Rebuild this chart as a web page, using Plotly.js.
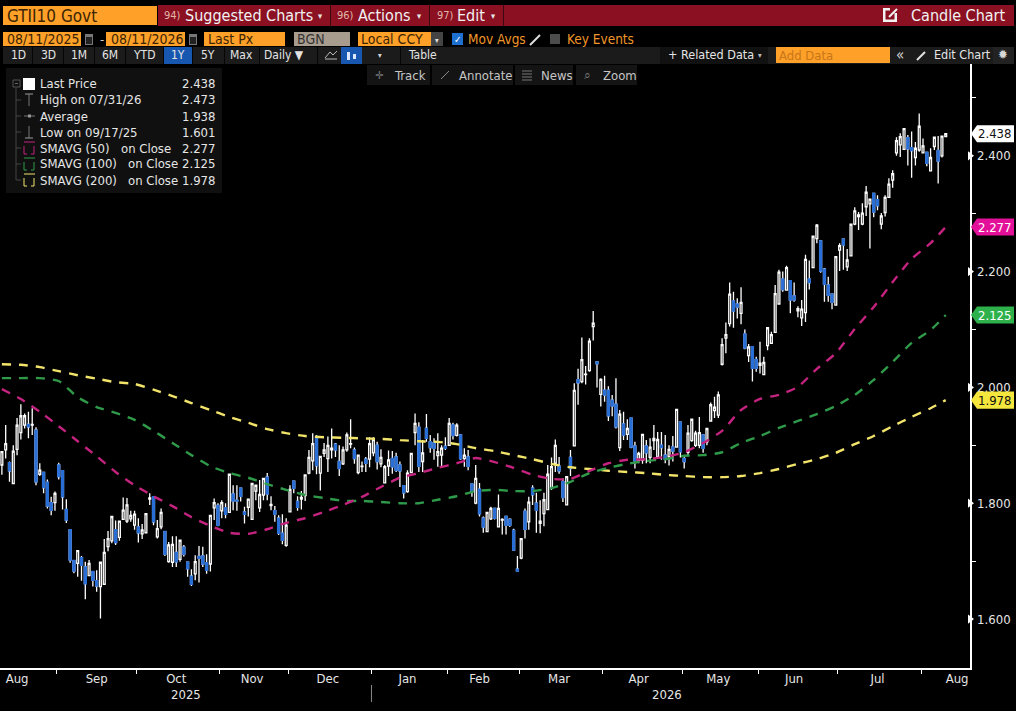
<!DOCTYPE html>
<html>
<head>
<meta charset="utf-8">
<script src="https://cdn.plot.ly/plotly-3.0.1.min.js"></script>
<style>html,body{margin:0;padding:0;background:#000;overflow:hidden}#chart{width:1016px;height:711px}</style>
</head>
<body>
<div id="chart"></div>
<script>
const dates = [
"2025-08-11","2025-08-12","2025-08-13","2025-08-14","2025-08-15","2025-08-18","2025-08-19","2025-08-20","2025-08-21","2025-08-22","2025-08-25","2025-08-26","2025-08-27","2025-08-28","2025-08-29",
"2025-09-02","2025-09-03","2025-09-04","2025-09-05","2025-09-08","2025-09-09","2025-09-10","2025-09-11","2025-09-12","2025-09-15","2025-09-16","2025-09-17","2025-09-18","2025-09-19","2025-09-22","2025-09-23","2025-09-24","2025-09-25","2025-09-26","2025-09-29","2025-09-30",
"2025-10-01","2025-10-02","2025-10-03","2025-10-06","2025-10-07","2025-10-08","2025-10-09","2025-10-10","2025-10-14","2025-10-15","2025-10-16","2025-10-17","2025-10-20","2025-10-21","2025-10-22","2025-10-23","2025-10-24","2025-10-27","2025-10-28","2025-10-29","2025-10-30","2025-10-31",
"2025-11-03","2025-11-04","2025-11-05","2025-11-06","2025-11-07","2025-11-10","2025-11-12","2025-11-13","2025-11-14","2025-11-17","2025-11-18","2025-11-19","2025-11-20","2025-11-21","2025-11-24","2025-11-25","2025-11-26","2025-11-28",
"2025-12-01","2025-12-02","2025-12-03","2025-12-04","2025-12-05","2025-12-08","2025-12-09","2025-12-10","2025-12-11","2025-12-12","2025-12-15","2025-12-16","2025-12-17","2025-12-18","2025-12-19","2025-12-22","2025-12-23","2025-12-24","2025-12-26","2025-12-29","2025-12-30","2025-12-31",
"2026-01-02","2026-01-05","2026-01-06","2026-01-07","2026-01-08","2026-01-09","2026-01-12","2026-01-13","2026-01-14","2026-01-15","2026-01-16","2026-01-20","2026-01-21","2026-01-22","2026-01-23","2026-01-26","2026-01-27","2026-01-28","2026-01-29","2026-01-30",
"2026-02-02","2026-02-03","2026-02-04","2026-02-05","2026-02-06","2026-02-09","2026-02-10","2026-02-11","2026-02-12","2026-02-13","2026-02-17","2026-02-18","2026-02-19","2026-02-20","2026-02-23","2026-02-24","2026-02-25","2026-02-26","2026-02-27",
"2026-03-02","2026-03-03","2026-03-04","2026-03-05","2026-03-06","2026-03-09","2026-03-10","2026-03-11","2026-03-12","2026-03-13","2026-03-16","2026-03-17","2026-03-18","2026-03-19","2026-03-20","2026-03-23","2026-03-24","2026-03-25","2026-03-26","2026-03-27","2026-03-30","2026-03-31",
"2026-04-01","2026-04-02","2026-04-06","2026-04-07","2026-04-08","2026-04-09","2026-04-10","2026-04-13","2026-04-14","2026-04-15","2026-04-16","2026-04-17","2026-04-20","2026-04-21","2026-04-22","2026-04-23","2026-04-24","2026-04-27","2026-04-28","2026-04-29","2026-04-30",
"2026-05-01","2026-05-04","2026-05-05","2026-05-06","2026-05-07","2026-05-08","2026-05-11","2026-05-12","2026-05-13","2026-05-14","2026-05-15","2026-05-18","2026-05-19","2026-05-20","2026-05-21","2026-05-22","2026-05-26","2026-05-27","2026-05-28","2026-05-29",
"2026-06-01","2026-06-02","2026-06-03","2026-06-04","2026-06-05","2026-06-08","2026-06-09","2026-06-10","2026-06-11","2026-06-12","2026-06-15","2026-06-16","2026-06-17","2026-06-18","2026-06-22","2026-06-23","2026-06-24","2026-06-25","2026-06-26","2026-06-29","2026-06-30",
"2026-07-01","2026-07-02","2026-07-06","2026-07-07","2026-07-08","2026-07-09","2026-07-10","2026-07-13","2026-07-14","2026-07-15","2026-07-16","2026-07-17","2026-07-20","2026-07-21","2026-07-22","2026-07-23","2026-07-24","2026-07-27","2026-07-28","2026-07-29","2026-07-30","2026-07-31",
"2026-08-03","2026-08-04","2026-08-05","2026-08-06","2026-08-07","2026-08-10","2026-08-11"];

const opens = [
1.866,1.892,1.870,1.834,1.893,1.922,1.935,1.936,1.935,1.926,
1.850,1.853,1.836,1.801,1.801,1.866,1.856,1.789,1.754,1.701,
1.696,1.706,1.690,1.675,1.682,1.666,1.656,1.660,1.725,1.735,
1.754,1.741,1.772,1.769,1.773,1.762,1.759,1.747,1.749,1.807,
1.811,1.742,1.759,1.751,1.699,1.698,1.715,1.703,1.724,1.698,
1.674,1.678,1.708,1.709,1.697,1.695,1.792,1.796,1.787,1.792,
1.784,1.816,1.805,1.826,1.785,1.793,1.772,1.821,1.792,1.814,
1.845,1.796,1.787,1.774,1.748,1.727,1.785,1.838,1.803,1.807,
1.813,1.852,1.873,1.915,1.852,1.886,1.877,1.892,1.902,1.872,
1.868,1.892,1.902,1.892,1.853,1.863,1.876,1.876,1.887,1.900,
1.868,1.835,1.864,1.877,1.880,1.866,1.830,1.820,1.853,1.922,
1.931,1.872,1.929,1.906,1.904,1.882,1.883,1.898,1.900,1.935,
1.917,1.918,1.877,1.880,1.833,1.800,1.824,1.774,1.751,1.773,
1.791,1.759,1.771,1.777,1.772,1.753,1.686,1.705,1.786,1.768,
1.826,1.800,1.765,1.782,1.789,1.827,1.869,1.864,1.837,1.797,
1.879,1.899,2.013,2.010,2.022,2.029,2.105,2.044,1.988,1.995,
1.995,1.978,1.971,1.896,1.937,1.919,1.947,1.899,1.874,1.874,
1.899,1.879,1.908,1.880,1.900,1.883,1.880,1.897,1.897,1.940,
1.877,1.888,1.908,1.900,1.900,1.918,1.906,1.942,1.960,1.952,
2.040,2.085,2.110,2.149,2.144,2.128,2.092,2.055,2.070,2.048,
2.038,2.022,2.072,2.076,2.095,2.144,2.187,2.168,2.184,2.158,
2.132,2.120,2.129,2.187,2.207,2.257,2.253,2.204,2.177,2.161,
2.142,2.237,2.256,2.208,2.227,2.282,2.295,2.282,2.312,2.317,
2.335,2.324,2.282,2.302,2.328,2.358,2.405,2.419,2.411,2.431,
2.414,2.397,2.410,2.405,2.406,2.374,2.416,2.409,2.400,2.433];

const highs = [
1.889,1.935,1.872,1.900,1.947,1.971,1.955,1.958,1.964,1.931,
1.869,1.854,1.841,1.811,1.820,1.870,1.857,1.807,1.754,1.702,
1.718,1.709,1.699,1.702,1.682,1.684,1.698,1.738,1.752,1.777,
1.770,1.770,1.810,1.809,1.787,1.787,1.774,1.764,1.782,1.817,
1.812,1.771,1.791,1.752,1.733,1.743,1.743,1.736,1.728,1.698,
1.686,1.710,1.726,1.725,1.712,1.779,1.808,1.800,1.805,1.800,
1.850,1.831,1.831,1.826,1.794,1.807,1.835,1.831,1.840,1.843,
1.852,1.812,1.795,1.779,1.781,1.774,1.831,1.839,1.812,1.821,
1.849,1.892,1.921,1.918,1.881,1.904,1.915,1.929,1.904,1.900,
1.898,1.922,1.945,1.896,1.883,1.872,1.880,1.914,1.914,1.906,
1.893,1.866,1.891,1.890,1.887,1.872,1.831,1.857,1.886,1.955,
1.940,1.909,1.954,1.918,1.912,1.921,1.900,1.914,1.947,1.939,
1.938,1.918,1.895,1.892,1.833,1.866,1.835,1.777,1.784,1.794,
1.791,1.815,1.774,1.778,1.774,1.756,1.709,1.739,1.791,1.811,
1.831,1.818,1.805,1.818,1.866,1.879,1.910,1.880,1.843,1.846,
1.892,2.007,2.032,2.086,2.037,2.085,2.132,2.044,2.016,2.020,
2.002,1.987,2.016,1.961,1.958,1.945,1.947,1.906,1.889,1.919,
1.909,1.912,1.935,1.923,1.923,1.918,1.900,1.916,1.962,1.941,
1.882,1.935,1.945,1.925,1.949,1.918,1.929,1.974,1.984,1.993,
2.085,2.112,2.181,2.165,2.154,2.173,2.100,2.075,2.070,2.053,
2.079,2.053,2.104,2.096,2.177,2.203,2.200,2.210,2.185,2.181,
2.140,2.151,2.229,2.219,2.261,2.282,2.253,2.206,2.191,2.162,
2.226,2.249,2.256,2.239,2.282,2.311,2.303,2.318,2.348,2.326,
2.335,2.332,2.301,2.332,2.361,2.375,2.432,2.439,2.447,2.436,
2.442,2.424,2.473,2.430,2.407,2.413,2.432,2.434,2.434,2.439];

const lows = [
1.849,1.877,1.837,1.834,1.883,1.910,1.929,1.912,1.918,1.831,
1.847,1.817,1.791,1.779,1.787,1.841,1.789,1.766,1.697,1.679,
1.673,1.666,1.634,1.674,1.656,1.647,1.601,1.659,1.717,1.731,
1.728,1.735,1.771,1.766,1.768,1.754,1.732,1.738,1.749,1.797,
1.762,1.739,1.755,1.709,1.697,1.690,1.690,1.699,1.708,1.673,
1.657,1.667,1.663,1.690,1.678,1.682,1.771,1.760,1.774,1.774,
1.784,1.788,1.787,1.803,1.765,1.777,1.772,1.805,1.785,1.805,
1.805,1.788,1.768,1.745,1.729,1.725,1.785,1.817,1.787,1.789,
1.804,1.850,1.857,1.850,1.822,1.880,1.854,1.877,1.880,1.847,
1.866,1.889,1.895,1.868,1.850,1.854,1.854,1.862,1.881,1.858,
1.862,1.834,1.847,1.851,1.854,1.828,1.808,1.818,1.852,1.900,
1.854,1.854,1.906,1.887,1.875,1.863,1.862,1.892,1.900,1.910,
1.915,1.875,1.863,1.857,1.811,1.798,1.777,1.749,1.750,1.771,
1.772,1.758,1.746,1.746,1.759,1.718,1.683,1.703,1.739,1.754,
1.797,1.749,1.748,1.760,1.788,1.823,1.854,1.851,1.802,1.796,
1.847,1.899,1.970,2.007,2.005,2.027,2.081,2.000,1.967,1.975,
1.942,1.950,1.929,1.890,1.909,1.909,1.895,1.860,1.869,1.868,
1.869,1.869,1.892,1.877,1.875,1.869,1.865,1.872,1.897,1.879,
1.860,1.883,1.906,1.897,1.895,1.887,1.900,1.941,1.947,1.947,
2.038,2.059,2.105,2.103,2.119,2.109,2.066,2.044,2.010,2.027,
2.024,2.021,2.064,2.075,2.094,2.144,2.165,2.168,2.128,2.148,
2.121,2.106,2.113,2.169,2.206,2.249,2.198,2.148,2.148,2.135,
2.141,2.201,2.203,2.201,2.226,2.280,2.272,2.280,2.296,2.240,
2.294,2.306,2.273,2.295,2.327,2.345,2.400,2.398,2.410,2.383,
2.362,2.383,2.407,2.404,2.382,2.373,2.410,2.352,2.397,2.433];

const closes = [
1.889,1.903,1.856,1.890,1.935,1.951,1.951,1.932,1.936,1.837,
1.857,1.827,1.795,1.788,1.817,1.846,1.811,1.771,1.702,1.683,
1.718,1.693,1.661,1.696,1.667,1.657,1.698,1.715,1.739,1.777,
1.732,1.769,1.788,1.797,1.779,1.781,1.749,1.754,1.782,1.809,
1.768,1.756,1.784,1.712,1.728,1.729,1.699,1.736,1.712,1.687,
1.660,1.699,1.705,1.695,1.684,1.779,1.801,1.762,1.801,1.781,
1.850,1.804,1.804,1.812,1.781,1.807,1.834,1.831,1.815,1.843,
1.816,1.798,1.781,1.748,1.736,1.762,1.824,1.826,1.793,1.810,
1.849,1.879,1.903,1.865,1.881,1.892,1.900,1.895,1.892,1.860,
1.892,1.918,1.903,1.877,1.883,1.864,1.869,1.903,1.910,1.872,
1.879,1.863,1.875,1.863,1.857,1.856,1.818,1.852,1.886,1.938,
1.864,1.887,1.912,1.896,1.895,1.889,1.895,1.895,1.938,1.917,
1.935,1.877,1.883,1.864,1.820,1.843,1.782,1.759,1.784,1.791,
1.774,1.791,1.772,1.762,1.762,1.719,1.683,1.739,1.755,1.802,
1.815,1.788,1.769,1.806,1.850,1.863,1.900,1.856,1.810,1.846,
1.860,1.995,2.008,2.048,2.023,2.080,2.111,2.041,2.014,1.987,
1.951,1.968,1.932,1.954,1.918,1.929,1.897,1.873,1.886,1.919,
1.887,1.897,1.912,1.910,1.896,1.876,1.893,1.890,1.962,1.889,
1.872,1.921,1.945,1.921,1.922,1.895,1.929,1.970,1.966,1.987,
2.074,2.091,2.161,2.132,2.139,2.147,2.068,2.070,2.033,2.033,
2.042,2.043,2.103,2.091,2.162,2.199,2.169,2.207,2.151,2.151,
2.136,2.135,2.221,2.181,2.261,2.280,2.201,2.178,2.159,2.147,
2.226,2.245,2.246,2.220,2.282,2.305,2.298,2.301,2.337,2.325,
2.303,2.314,2.296,2.328,2.351,2.369,2.426,2.433,2.447,2.412,
2.409,2.413,2.451,2.417,2.387,2.397,2.432,2.391,2.434,2.438];

// moving averages, read every fifth session (last one is the final session)
const maSessions = [0,5,10,15,20,25,30,35,40,45,50,55,60,65,70,75,80,85,90,95,100,105,110,115,120,125,130,135,140,145,150,155,160,165,170,175,180,185,190,195,200,205,210,215,220,225,230,235,240,245,249];
const sma50 = [1.997,1.980,1.958,1.933,1.907,1.881,1.854,1.831,1.812,1.795,1.776,1.761,1.749,1.747,1.755,1.766,1.774,1.785,1.797,1.811,1.828,1.844,1.852,1.861,1.869,1.878,1.871,1.861,1.849,1.842,1.842,1.856,1.869,1.875,1.876,1.880,1.888,1.904,1.925,1.961,1.980,1.987,2.001,2.032,2.059,2.101,2.139,2.182,2.222,2.249,2.277];
const sma100 = [2.016,2.016,2.016,2.011,1.983,1.966,1.956,1.944,1.925,1.904,1.883,1.864,1.852,1.844,1.833,1.823,1.814,1.809,1.804,1.804,1.802,1.800,1.800,1.806,1.812,1.821,1.823,1.821,1.821,1.826,1.837,1.852,1.861,1.868,1.873,1.876,1.882,1.883,1.888,1.904,1.916,1.930,1.942,1.954,1.968,1.987,2.013,2.044,2.077,2.099,2.125];
const sma200 = [2.040,2.039,2.035,2.028,2.021,2.015,2.009,2.006,1.996,1.985,1.973,1.961,1.949,1.939,1.928,1.921,1.916,1.914,1.913,1.912,1.911,1.909,1.907,1.906,1.902,1.895,1.890,1.883,1.876,1.868,1.862,1.859,1.856,1.854,1.852,1.849,1.847,1.845,1.845,1.847,1.852,1.859,1.868,1.876,1.887,1.902,1.916,1.933,1.949,1.964,1.978];

const holidays = ["2025-09-01","2025-10-13","2025-11-11","2025-11-27","2025-12-25","2026-01-01","2026-01-19","2026-02-16","2026-04-03","2026-05-25","2026-06-19","2026-07-03"];
const monthStarts = ["2025-09-02","2025-10-01","2025-11-03","2025-12-01","2026-01-02","2026-02-02","2026-03-02","2026-04-01","2026-05-01","2026-06-01","2026-07-01","2026-08-03"];
const monthLabelDates = ["2025-08-15","2025-09-16","2025-10-16","2025-11-14","2025-12-15","2026-01-15","2026-02-12","2026-03-16","2026-04-15","2026-05-14","2026-06-12","2026-07-16","2026-08-14"];
const monthLabels = ["Aug","Sep","Oct","Nov","Dec","Jan","Feb","Mar","Apr","May","Jun","Jul","Aug"];
const yMajor = [1.6,1.8,2.0,2.2,2.4];
const yMajorText = ["1.600","1.800","2.000","2.200","2.400"];
const yMinor = [1.7,1.9,2.1,2.3,2.5];
const tagValues = [2.438,2.277,2.125,1.978];
const tagText = ["2.438","2.277","2.125","1.978"];
const tagFill = ["#ffffff","#e3109a","#2eb14b","#f4e63c"];
const tagInk = ["#111111","#ffffff","#ffffff","#111111"];

const xRange = ["2025-08-11 00:00","2026-08-19 21:36"];
const UI = '"DejaVu Sans Condensed","DejaVu Sans",sans-serif';
const W = 970, TOP = 64, BOT = 668, PH = BOT - TOP;
const X = p => p / W, Y = p => (BOT - p) / PH;
const shapes = [], annotations = [];
function rect(x0,y0,x1,y1,fill){shapes.push({type:'rect',xref:'paper',yref:'paper',x0:X(x0),x1:X(x1),y0:Y(y0),y1:Y(y1),fillcolor:fill,line:{width:0},layer:'above'});}
function seg(x0,y0,x1,y1,c,w){shapes.push({type:'line',xref:'paper',yref:'paper',x0:X(x0),x1:X(x1),y0:Y(y0),y1:Y(y1),line:{color:c,width:w||1},layer:'above'});}
function label(x,y,text,color,size,anchor){annotations.push({xref:'paper',yref:'paper',x:X(x),y:Y(y),text:text,showarrow:false,xanchor:anchor||'left',yanchor:'middle',font:{family:UI,size:size||13,color:color||'#e8e8e8'},borderpad:0});}

// --- top red bar
const ORANGE='#ffa028', RED='#8a1022', INK='#3b2404';
rect(158,5,1014,26,RED);
rect(3,6,157,25,ORANGE);
[330,429,503].forEach(x=>rect(x,5,x+1,26,'#3a0810'));
label(6,16,'GTII10 Govt',INK,17);
label(163,15,'94)','#e2b7a6',11); label(184,15,'Suggested Charts','#f2f2f2',16); label(320,16,'▾','#e8e8e8',9,'center');
label(336,15,'96)','#e2b7a6',11); label(357,15,'Actions','#f2f2f2',16); label(419,16,'▾','#e8e8e8',9,'center');
label(436,15,'97)','#e2b7a6',11); label(456,15,'Edit','#f2f2f2',16); label(493,16,'▾','#e8e8e8',9,'center');
label(910,15,'Candle Chart','#f2f2f2',16);
rect(883,8,897,22,'#f2f2f2'); rect(885.5,10.5,894.5,19.5,RED); rect(890,7,899,13,RED); seg(889,17,897,9,'#f2f2f2',2);
// --- second row
rect(3,32,81,46,ORANGE); rect(106,32,185,46,ORANGE); rect(204,32,285,46,ORANGE); rect(294,32,350,46,'#a89c8e'); rect(358,32,431,46,ORANGE); rect(431,32,443,46,'#444444');
rect(85,34,93,45,'#777777'); rect(189,34,197,45,'#777777'); rect(86,37,92,44,'#222222'); rect(190,37,196,44,'#222222');
label(6,39,'08/11/2025',INK,14); label(99,39,'-','#cccccc',13); label(110,39,'08/11/2026',INK,14);
label(207,39,'Last Px',INK,14); label(296,39,'BGN','#333333',14); label(360,39,'Local CCY',INK,14); label(437,40,'▾','#e0e0e0',8,'center');
rect(452,33,463,45,'#1e70d0'); label(457.5,39,'✓','#ffffff',10,'center');
label(467,39,'Mov Avgs','#f0962a',13.5);
seg(530,45,540,35,'#dddddd',2);
rect(550,34,560,44,'#4c4c4c'); label(566,39,'Key Events','#f0962a',13.5);
// --- third row
rect(3,47,1014,64,'#1b1b1b');
[32,63,94,125,163,192,224,259,317,341,400].forEach(x=>rect(x,47,x+1,64,'#060606'));
rect(164,47,192,64,'#1857b0'); rect(341,47,362,64,'#1857b0');
[['1D',18],['3D',48],['1M',79],['6M',110],['YTD',144],['1Y',178],['5Y',208],['Max',241],['Table',422]].forEach(r=>label(r[1],55,r[0],'#e4e4e4',12,'center'));
label(284,55,'Daily ▼','#e4e4e4',12,'center');
seg(325,59,337,59,'#bbbbbb',1); seg(325,58,330,52,'#bbbbbb',1); seg(330,52,333,55,'#bbbbbb',1); seg(333,55,337,51,'#bbbbbb',1);
rect(347,52,350,60,'#dbe8ff'); rect(353,54,356,59,'#dbe8ff');
label(380,56,'▾','#d8d8d8',8,'center');
rect(660,47,768,64,'#111111');
label(667,55,'+ Related Data','#e4e4e4',12.5); label(760,56,'▾','#bbbbbb',8,'center');
rect(776,47,890,63,ORANGE); label(778,56,'Add Data','#c8761a',13);
label(900,55,'«','#d8d8d8',15,'center');
seg(917,60,925,52,'#e4e4e4',2); label(933,55,'Edit Chart','#e4e4e4',12.5);
rect(993,47,1014,64,'#222222'); label(1003,55,'✹','#d8d8d8',13,'center');
// --- fourth row
rect(367,65,430,85,'#141414'); rect(432,65,513,85,'#141414'); rect(515,65,573,85,'#141414'); rect(576,65,637,85,'#141414');
label(379,75,'✛','#777777',11,'center'); label(393,75,'Track','#c6c6c6',13);
seg(441,79,449,71,'#888888',1); label(458,75,'Annotate','#c6c6c6',13);
[71,74,77,80].forEach(y=>seg(522,y,532,y,'#777777',1)); label(540,75,'News','#c6c6c6',13);
label(587,75,'⌕','#777777',12,'center'); label(602,75,'Zoom','#c6c6c6',13);
// --- legend panel
rect(6,68,222,193,'#101010');
const rows = [84,100,116,132,148,164,180];
const legendNames = ['Last Price','High on 07/31/26','Average','Low on 09/17/25','SMAVG (50)','SMAVG (100)','SMAVG (200)'];
const legendValues = ['2.438','2.473','1.938','1.601','2.277','2.125','1.978'];
rows.forEach((y,i)=>{label(39,y,legendNames[i],'#e6e6e6',13); label(216,y,legendValues[i],'#e6e6e6',13,'right');});
label(120,148,'on Close','#e6e6e6',13); label(127,164,'on Close','#e6e6e6',13); label(127,180,'on Close','#e6e6e6',13);
seg(16,88,16,180,'#444444',1);
rows.slice(1).forEach(y=>seg(16,y,21,y,'#444444',1));
rect(13,80,20,87,'#101010'); seg(13,80,20,80,'#555555'); seg(13,87,20,87,'#555555'); seg(13,80,13,87,'#555555'); seg(20,80,20,87,'#555555'); seg(15,83.5,18,83.5,'#666666');
rect(23,78,35,90,'#ffffff');
seg(29,94,29,106,'#777777'); seg(25,94,33,94,'#999999');
seg(24,116,35,116,'#777777'); rect(28,114.5,31,117.5,'#999999');
seg(29,126,29,138,'#777777'); seg(25,138,33,138,'#999999');
[[148,'#c4237f'],[164,'#2f9b4a'],[180,'#f2e46a']].forEach(r=>{const y=r[0],c=r[1];seg(24,y-6,35,y-6,c);seg(24,y-2,24,y+6,c);seg(24,y+6,27,y+6,c);seg(34,y-2,34,y+6,c);seg(31,y+6,34,y+6,c);});
// --- value tags on the right axis
tagValues.forEach((v,i)=>{
  const h=0.0147, a=X(971), b=X(977), c=X(1014);
  shapes.push({type:'path',xref:'paper',yref:'y',path:`M ${a},${v} L ${b},${v+h} L ${c},${v+h} L ${c},${v-h} L ${b},${v-h} Z`,fillcolor:tagFill[i],line:{width:0},layer:'above'});
  annotations.push({xref:'paper',yref:'y',x:X(995),y:v,text:tagText[i],showarrow:false,xanchor:'center',yanchor:'middle',font:{family:UI,size:13,color:tagInk[i]},borderpad:0});
});
// --- year band under the month labels
shapes.push({type:'line',xref:'x',yref:'paper',x0:"2026-01-02",x1:"2026-01-02",y0:Y(685),y1:Y(702),line:{color:'#888888',width:1},layer:'above'});
annotations.push({xref:'x',yref:'paper',x:"2025-10-21",y:Y(694),text:'2025',showarrow:false,xanchor:'center',yanchor:'middle',font:{family:UI,size:13,color:'#e6e6e6'}});
annotations.push({xref:'x',yref:'paper',x:"2026-04-27",y:Y(694),text:'2026',showarrow:false,xanchor:'center',yanchor:'middle',font:{family:UI,size:13,color:'#e6e6e6'}});

const noon = d => d + ' 12:00';
const downIdx = closes.map((c,i)=>c<opens[i]?i:-1).filter(i=>i>=0);
const BLUE = '#2a6fd6';
const STROKE = 1.3;
const traces = [
  {type:'candlestick',x:dates.map(noon),open:opens,high:highs,low:lows,close:closes,whiskerwidth:0,
   increasing:{line:{color:'#ffffff',width:STROKE},fillcolor:'#000000'},
   decreasing:{line:{color:'#ffffff',width:STROKE},fillcolor:BLUE},hoverinfo:'skip',showlegend:false},
  {type:'candlestick',x:downIdx.map(i=>noon(dates[i])),open:downIdx.map(i=>opens[i]),close:downIdx.map(i=>closes[i]),
   high:downIdx.map(i=>opens[i]),low:downIdx.map(i=>closes[i]),whiskerwidth:0,
   increasing:{line:{color:BLUE,width:STROKE+0.2},fillcolor:BLUE},
   decreasing:{line:{color:BLUE,width:STROKE+0.2},fillcolor:BLUE},hoverinfo:'skip',showlegend:false},
  {type:'scatter',mode:'lines',x:maSessions.map(i=>noon(dates[i])),y:sma200,line:{color:'#f2e46a',width:2.4,dash:'9px,8px',shape:'spline',smoothing:0.6},hoverinfo:'skip',showlegend:false},
  {type:'scatter',mode:'lines',x:maSessions.map(i=>noon(dates[i])),y:sma100,line:{color:'#2f9b4a',width:2.4,dash:'9px,8px',shape:'spline',smoothing:0.6},hoverinfo:'skip',showlegend:false},
  {type:'scatter',mode:'lines',x:maSessions.map(i=>noon(dates[i])),y:sma50,line:{color:'#c4237f',width:2.4,dash:'9px,8px',shape:'spline',smoothing:0.6},hoverinfo:'skip',showlegend:false},
  {type:'scatter',mode:'markers',x:yMajor.map(()=>xRange[1]),y:yMajor,cliponaxis:false,marker:{symbol:'triangle-right',size:8,color:'#ffffff'},hoverinfo:'skip',showlegend:false}
];
const layout = {
  width:1016,height:711,autosize:false,
  margin:{l:0,r:46,t:TOP,b:711-BOT,pad:0},
  paper_bgcolor:'#000000',plot_bgcolor:'#000000',showlegend:false,hovermode:false,
  font:{family:UI,color:'#e6e6e6',size:13},
  xaxis:{type:'date',range:xRange,rangeslider:{visible:false},showgrid:false,zeroline:false,
    rangebreaks:[{bounds:['sat','mon']},{values:holidays}],
    showline:true,linecolor:'#ffffff',linewidth:1.5,
    tickmode:'array',tickvals:monthLabelDates.map(noon),ticktext:monthLabels,ticks:'',ticklen:0,
    tickfont:{family:UI,size:13,color:'#e6e6e6'},tickangle:0,ticklabelstandoff:-2,
    minor:{tickmode:'array',tickvals:monthStarts,ticks:'outside',ticklen:4,tickcolor:'#ffffff',tickwidth:1,showgrid:false}},
  yaxis:{side:'right',range:[1.5154,2.5585],showgrid:false,zeroline:false,fixedrange:true,
    showline:true,linecolor:'#ffffff',linewidth:1.5,
    tickmode:'array',tickvals:yMajor,ticktext:yMajorText,ticks:'',ticklen:0,ticklabelstandoff:3,
    tickfont:{family:UI,size:13,color:'#e6e6e6'},
    minor:{tickmode:'array',tickvals:yMinor,ticks:'outside',ticklen:4,tickcolor:'#ffffff',tickwidth:1,showgrid:false}},
  shapes:shapes,annotations:annotations
};
Plotly.newPlot('chart',traces,layout,{displayModeBar:false,staticPlot:true});
</script>
</body>
</html>
